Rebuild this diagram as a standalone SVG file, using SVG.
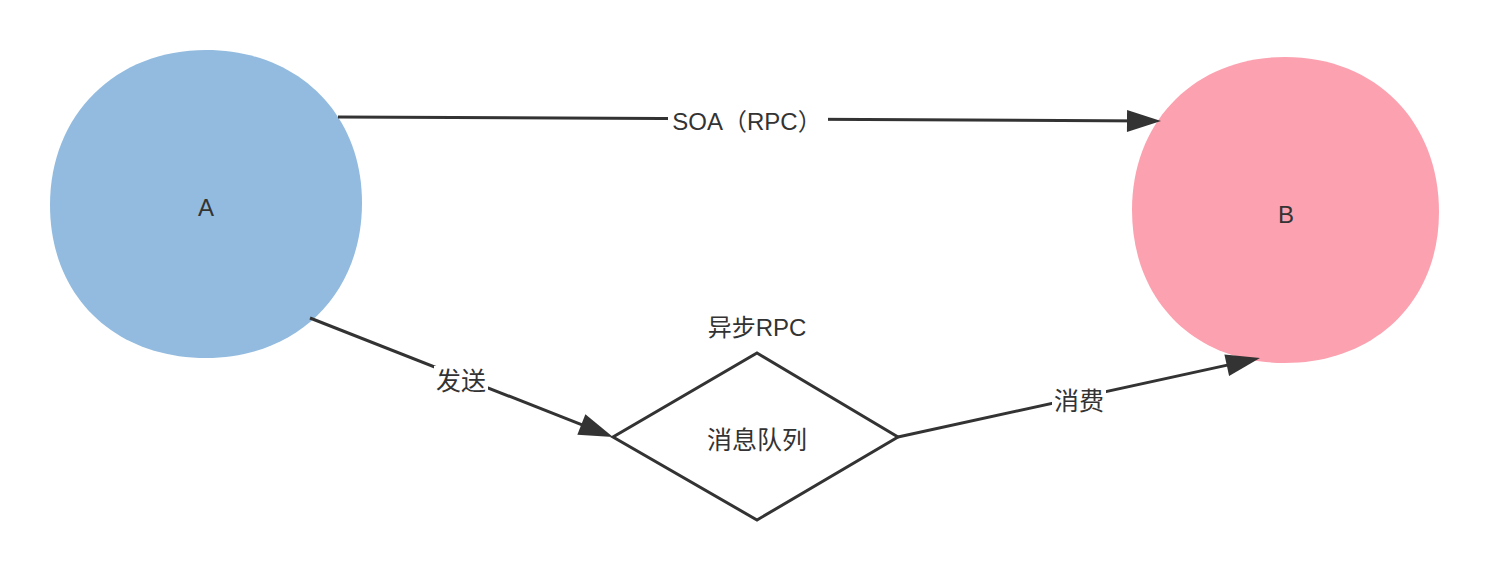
<svg xmlns="http://www.w3.org/2000/svg" width="1490" height="570" viewBox="0 0 1490 570">
<defs>
<style>
.lbl{font-family:"Liberation Sans","Noto Sans CJK SC",sans-serif;font-size:24px;fill:#333;text-anchor:middle;dominant-baseline:central}
.cjk{font-size:25px}
.edge{stroke:#333;stroke-width:3;fill:none}
.bg{fill:#fff}
</style>
<marker id="arr" markerUnits="userSpaceOnUse" markerWidth="36" markerHeight="24" refX="24" refY="11" orient="auto" overflow="visible">
<path d="M0,0 L34,11 L0,22 Z" fill="#333"/>
</marker>
</defs>
<rect width="1490" height="570" fill="#fff"/>
<g id="node-A">
<path d="M50,205 C50,114 116,50 206,50 C296,50 362,112 362,203 C362,294 297,358 206,358 C114,358 50,296 50,205 Z" fill="#92BBDF"/>
<text class="lbl" x="206" y="207">A</text>
</g>
<g id="node-B">
<path d="M1132,210 C1132,120 1196,57 1285,57 C1376,57 1439,122 1439,212 C1439,302 1374,363 1285,363 C1194,363 1132,300 1132,210 Z" fill="#FBA1AF"/>
<text class="lbl" x="1286" y="214">B</text>
</g>
<g id="node-MQ">
<path d="M757,353 L898,437 L757,520 L613,437 Z" fill="#fff" stroke="#333" stroke-width="3" stroke-linejoin="miter"/>
<text class="lbl cjk" x="757" y="440">消息队列</text>
<text class="lbl" x="757" y="327">异步RPC</text>
</g>
<g id="connectors">
<line class="edge" x1="338" y1="117" x2="1151" y2="121" marker-end="url(#arr)"/>
<line class="edge" x1="310" y1="318" x2="603.7" y2="433.3" marker-end="url(#arr)"/>
<line class="edge" x1="898" y1="437" x2="1250.2" y2="360.1" marker-end="url(#arr)"/>
<rect class="bg" x="668" y="106" width="160" height="30"/>
<text class="lbl" x="747" y="121">SOA（RPC）</text>
<rect class="bg" x="434" y="366" width="54" height="30"/>
<text class="lbl cjk" x="461" y="381">发送</text>
<rect class="bg" x="1052" y="387" width="54" height="30"/>
<text class="lbl cjk" x="1079" y="401">消费</text>
</g>
</svg>
